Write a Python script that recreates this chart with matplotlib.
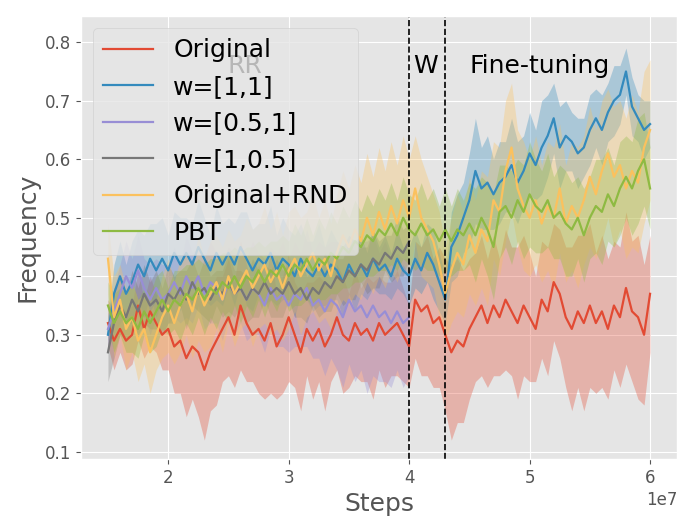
import numpy as np
import matplotlib
matplotlib.use("Agg")
import matplotlib.pyplot as plt

plt.style.use("ggplot")

# ---------------- data ----------------
step_start = 1.5e7
step_size = 5e5

original_mean = [0.32, 0.29, 0.31, 0.29, 0.30, 0.35, 0.31, 0.34, 0.32, 0.30,
                 0.31, 0.28, 0.29, 0.26, 0.28, 0.27, 0.24, 0.27, 0.29, 0.31,
                 0.33, 0.30, 0.35, 0.32, 0.30, 0.31, 0.29, 0.32, 0.28, 0.30,
                 0.33, 0.30, 0.27, 0.31, 0.29, 0.31, 0.28, 0.30, 0.33, 0.30,
                 0.29, 0.32, 0.30, 0.31, 0.29, 0.32, 0.30, 0.31, 0.32, 0.30,
                 0.28, 0.36, 0.34, 0.35, 0.32, 0.33, 0.30, 0.27, 0.29, 0.28,
                 0.31, 0.33, 0.35, 0.32, 0.35, 0.33, 0.36, 0.34, 0.32, 0.35,
                 0.33, 0.31, 0.36, 0.34, 0.39, 0.37, 0.33, 0.31, 0.34, 0.32,
                 0.35, 0.32, 0.34, 0.31, 0.35, 0.33, 0.38, 0.34, 0.33, 0.30,
                 0.37]
original_std = [0.04, 0.05, 0.04, 0.05, 0.05, 0.06, 0.05, 0.06, 0.05, 0.06,
                0.07, 0.08, 0.09, 0.10, 0.09, 0.11, 0.12, 0.10, 0.11, 0.09,
                0.10, 0.09, 0.11, 0.10, 0.08, 0.11, 0.10, 0.12, 0.09, 0.10,
                0.11, 0.09, 0.10, 0.08, 0.10, 0.09, 0.11, 0.08, 0.09, 0.10,
                0.08, 0.09, 0.08, 0.09, 0.10, 0.08, 0.09, 0.08, 0.09, 0.08,
                0.07, 0.10, 0.11, 0.12, 0.11, 0.12, 0.13, 0.15, 0.14, 0.13,
                0.12, 0.11, 0.12, 0.11, 0.12, 0.10, 0.12, 0.11, 0.13, 0.12,
                0.11, 0.09, 0.10, 0.11, 0.10, 0.11, 0.12, 0.14, 0.13, 0.15,
                0.14, 0.12, 0.13, 0.12, 0.11, 0.12, 0.13, 0.12, 0.14, 0.12,
                0.10]

w11_mean = [0.30, 0.37, 0.40, 0.37, 0.39, 0.42, 0.40, 0.43, 0.41, 0.43,
            0.41, 0.44, 0.42, 0.44, 0.42, 0.45, 0.43, 0.41, 0.44, 0.42,
            0.44, 0.42, 0.45, 0.43, 0.41, 0.43, 0.42, 0.44, 0.41, 0.43,
            0.42, 0.40, 0.43, 0.41, 0.40, 0.42, 0.40, 0.42, 0.41, 0.39,
            0.42, 0.40, 0.42, 0.40, 0.43, 0.41, 0.42, 0.40, 0.43, 0.41,
            0.40, 0.43, 0.41, 0.44, 0.42, 0.39, 0.36, 0.45, 0.47, 0.50,
            0.53, 0.58, 0.55, 0.56, 0.54, 0.56, 0.57, 0.59, 0.56, 0.58,
            0.61, 0.59, 0.62, 0.64, 0.67, 0.62, 0.64, 0.63, 0.61, 0.62,
            0.65, 0.67, 0.65, 0.68, 0.70, 0.71, 0.75, 0.69, 0.67, 0.65,
            0.66]
w11_std = [0.03, 0.05, 0.06, 0.05, 0.07, 0.06, 0.07, 0.06, 0.08, 0.07,
           0.06, 0.07, 0.08, 0.06, 0.07, 0.08, 0.07, 0.06, 0.08, 0.07,
           0.06, 0.07, 0.06, 0.08, 0.07, 0.06, 0.07, 0.08, 0.06, 0.07,
           0.06, 0.07, 0.06, 0.05, 0.06, 0.07, 0.05, 0.06, 0.05, 0.06,
           0.05, 0.06, 0.05, 0.04, 0.05, 0.04, 0.05, 0.04, 0.05, 0.04,
           0.05, 0.05, 0.04, 0.05, 0.06, 0.05, 0.04, 0.06, 0.07, 0.06,
           0.08, 0.09, 0.07, 0.08, 0.06, 0.07, 0.06, 0.08, 0.07, 0.06,
           0.07, 0.06, 0.08, 0.07, 0.06, 0.07, 0.06, 0.05, 0.06, 0.05,
           0.06, 0.05, 0.06, 0.05, 0.06, 0.05, 0.04, 0.05, 0.04, 0.05,
           0.04]

w051_mean = [0.31, 0.34, 0.37, 0.40, 0.38, 0.41, 0.38, 0.36, 0.38, 0.36,
             0.37, 0.39, 0.37, 0.40, 0.38, 0.40, 0.37, 0.39, 0.38, 0.36,
             0.39, 0.37, 0.38, 0.36, 0.38, 0.37, 0.35, 0.38, 0.36, 0.37,
             0.35, 0.37, 0.36, 0.38, 0.35, 0.36, 0.34, 0.36, 0.35, 0.33,
             0.36, 0.34, 0.35, 0.33, 0.35, 0.33, 0.34, 0.32, 0.34, 0.32,
             0.33]
w051_std = [0.03, 0.04, 0.05, 0.06, 0.05, 0.06, 0.05, 0.06, 0.05, 0.06,
            0.05, 0.06, 0.05, 0.07, 0.06, 0.05, 0.06, 0.07, 0.06, 0.07,
            0.06, 0.07, 0.06, 0.07, 0.08, 0.07, 0.08, 0.07, 0.08, 0.09,
            0.08, 0.09, 0.08, 0.10, 0.09, 0.10, 0.11, 0.10, 0.11, 0.12,
            0.11, 0.12, 0.11, 0.13, 0.12, 0.11, 0.12, 0.11, 0.10, 0.11,
            0.10]

w105_mean = [0.27, 0.32, 0.35, 0.33, 0.36, 0.34, 0.37, 0.35, 0.36, 0.34,
             0.37, 0.36, 0.38, 0.36, 0.39, 0.37, 0.38, 0.36, 0.38, 0.37,
             0.39, 0.37, 0.38, 0.36, 0.38, 0.37, 0.39, 0.37, 0.38, 0.37,
             0.39, 0.37, 0.38, 0.36, 0.38, 0.37, 0.39, 0.38, 0.40, 0.39,
             0.41, 0.40, 0.42, 0.41, 0.43, 0.42, 0.44, 0.43, 0.45, 0.44,
             0.46]
w105_std = [0.05, 0.06, 0.05, 0.04, 0.05, 0.04, 0.05, 0.04, 0.05, 0.04,
            0.05, 0.04, 0.03, 0.05, 0.04, 0.03, 0.05, 0.04, 0.03, 0.04,
            0.05, 0.04, 0.03, 0.04, 0.05, 0.04, 0.03, 0.04, 0.05, 0.04,
            0.03, 0.04, 0.05, 0.04, 0.03, 0.04, 0.05, 0.04, 0.03, 0.04,
            0.05, 0.04, 0.03, 0.04, 0.05, 0.04, 0.03, 0.04, 0.05, 0.04,
            0.03]

rnd_mean = [0.43, 0.33, 0.36, 0.31, 0.33, 0.29, 0.31, 0.27, 0.30, 0.33,
            0.35, 0.32, 0.35, 0.37, 0.34, 0.38, 0.35, 0.37, 0.39, 0.36,
            0.40, 0.37, 0.39, 0.41, 0.38, 0.40, 0.42, 0.39, 0.41, 0.38,
            0.41, 0.43, 0.40, 0.42, 0.44, 0.41, 0.43, 0.40, 0.44, 0.47,
            0.45, 0.48, 0.46, 0.50, 0.47, 0.51, 0.48, 0.52, 0.49, 0.53,
            0.50, 0.55, 0.50, 0.48, 0.46, 0.42, 0.37, 0.41, 0.44, 0.42,
            0.47, 0.44, 0.48, 0.46, 0.53, 0.51, 0.58, 0.62, 0.55, 0.52,
            0.50, 0.53, 0.49, 0.52, 0.50, 0.55, 0.49, 0.52, 0.50, 0.53,
            0.57, 0.54, 0.58, 0.61, 0.57, 0.59, 0.55, 0.58, 0.56, 0.62,
            0.65]
rnd_std = [0.06, 0.07, 0.06, 0.07, 0.06, 0.07, 0.06, 0.07, 0.06, 0.07,
           0.08, 0.07, 0.08, 0.07, 0.08, 0.09, 0.08, 0.09, 0.08, 0.09,
           0.08, 0.09, 0.08, 0.09, 0.10, 0.09, 0.10, 0.09, 0.10, 0.09,
           0.10, 0.09, 0.10, 0.09, 0.10, 0.09, 0.10, 0.09, 0.10, 0.11,
           0.10, 0.11, 0.10, 0.11, 0.10, 0.11, 0.10, 0.11, 0.10, 0.11,
           0.10, 0.09, 0.10, 0.09, 0.08, 0.09, 0.08, 0.09, 0.10, 0.09,
           0.10, 0.09, 0.10, 0.11, 0.10, 0.11, 0.12, 0.11, 0.10, 0.11,
           0.10, 0.11, 0.10, 0.11, 0.12, 0.11, 0.10, 0.11, 0.12, 0.11,
           0.12, 0.11, 0.12, 0.11, 0.12, 0.11, 0.12, 0.13, 0.12, 0.13,
           0.12]

pbt_mean = [0.35, 0.32, 0.34, 0.32, 0.33, 0.31, 0.34, 0.32, 0.34, 0.36,
            0.34, 0.36, 0.35, 0.37, 0.36, 0.38, 0.36, 0.38, 0.37, 0.39,
            0.38, 0.40, 0.38, 0.40, 0.39, 0.41, 0.39, 0.41, 0.40, 0.42,
            0.40, 0.42, 0.41, 0.43, 0.41, 0.43, 0.42, 0.44, 0.43, 0.45,
            0.44, 0.46, 0.45, 0.47, 0.46, 0.48, 0.47, 0.49, 0.47, 0.50,
            0.48, 0.47, 0.49, 0.47, 0.48, 0.46, 0.48, 0.46, 0.48, 0.47,
            0.49, 0.47, 0.50, 0.48, 0.45, 0.51, 0.52, 0.50, 0.53, 0.51,
            0.54, 0.52, 0.51, 0.53, 0.50, 0.51, 0.49, 0.48, 0.50, 0.47,
            0.50, 0.52, 0.51, 0.54, 0.52, 0.55, 0.57, 0.55, 0.58, 0.60,
            0.55]
pbt_std = [0.04, 0.05, 0.04, 0.05, 0.06, 0.05, 0.04, 0.05, 0.06, 0.05,
           0.04, 0.05, 0.06, 0.05, 0.06, 0.05, 0.06, 0.05, 0.06, 0.05,
           0.06, 0.05, 0.06, 0.05, 0.06, 0.05, 0.06, 0.05, 0.06, 0.05,
           0.06, 0.07, 0.06, 0.07, 0.06, 0.07, 0.06, 0.07, 0.06, 0.07,
           0.06, 0.07, 0.06, 0.07, 0.06, 0.07, 0.06, 0.07, 0.06, 0.07,
           0.06, 0.06, 0.07, 0.06, 0.07, 0.06, 0.07, 0.06, 0.07, 0.06,
           0.07, 0.08, 0.07, 0.08, 0.09, 0.08, 0.07, 0.08, 0.07, 0.08,
           0.09, 0.08, 0.07, 0.08, 0.07, 0.08, 0.09, 0.08, 0.07, 0.08,
           0.07, 0.08, 0.09, 0.08, 0.07, 0.08, 0.07, 0.08, 0.09, 0.08,
           0.07]

series = [
    ("Original", original_mean, original_std),
    ("w=[1,1]", w11_mean, w11_std),
    ("w=[0.5,1]", w051_mean, w051_std),
    ("w=[1,0.5]", w105_mean, w105_std),
    ("Original+RND", rnd_mean, rnd_std),
    ("PBT", pbt_mean, pbt_std),
]

phase_bounds = [4.0e7, 4.3e7]
phase_labels = [("RR", 2.64e7), ("W", 4.14e7), ("Fine-tuning", 5.08e7)]

# ---------------- plot ----------------
fig = plt.figure(figsize=(6.91, 5.28), dpi=100)
ax = fig.add_axes([0.117, 0.131, 0.863, 0.839])

for label, mean, std in series:
    mean = np.asarray(mean)
    std = np.asarray(std)
    steps = step_start + step_size * np.arange(len(mean))
    line, = ax.plot(steps, mean, label=label, lw=1.6)
    ax.fill_between(steps, mean - std, mean + std,
                    color=line.get_color(), alpha=0.33, lw=0)

for b in phase_bounds:
    ax.axvline(b, color="black", ls="--", lw=1.2)

for txt, xpos in phase_labels:
    ax.text(xpos, 0.76, txt, fontsize=18, ha="center", va="center",
            color="black")

ax.set_ylim(0.088, 0.845)
ax.set_xlabel("Steps", fontsize=18)
ax.set_ylabel("Frequency", fontsize=18)
ax.tick_params(labelsize=12)
ax.xaxis.get_offset_text().set_fontsize(12)
ax.legend(loc="upper left", fontsize=18, labelspacing=0.5)

fig.savefig("out.png", dpi=100)
